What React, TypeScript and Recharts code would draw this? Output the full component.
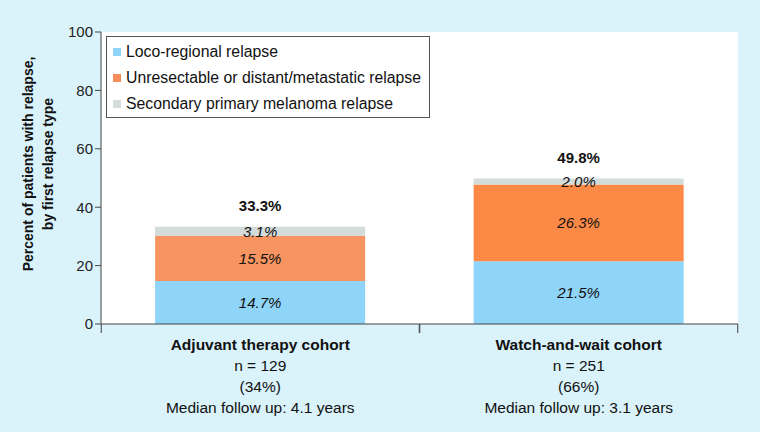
import { BarChart, Bar, XAxis, YAxis, CartesianGrid, Legend, LabelList, Cell } from 'recharts';

const cohorts = ['Adjuvant therapy cohort', 'Watch-and-wait cohort'];
const cohortN = ['n = 129', 'n = 251'];
const cohortShare = ['(34%)', '(66%)'];
const cohortFollowUp = ['Median follow up: 4.1 years', 'Median follow up: 3.1 years'];
const locoRegional = [14.7, 21.5];
const distant = [15.5, 26.3];
const secondaryPrimary = [3.1, 2.0];
const totals = [33.3, 49.8];
const yTicks = [0, 20, 40, 60, 80, 100];

const seriesNames = [
  'Loco-regional relapse',
  'Unresectable or distant/metastatic relapse',
  'Secondary primary melanoma relapse',
];
const blue = '#8fd4f9';
const orangeShades = ['#f7945f', '#fc8946'];
const legendOrange = '#f58c5c';
const grey = '#d3dbdb';

const data = cohorts.map((name, i) => ({
  name,
  loco: locoRegional[i],
  distant: distant[i],
  secondary: secondaryPrimary[i],
  total: totals[i],
}));

const font = '"Liberation Sans", Arial, Helvetica, sans-serif';
const pct = (v: number) => `${v.toFixed(1)}%`;

// half of one category band, used to put tick marks on band edges
const HALF_BAND = 159;

function CohortTick(props: any) {
  const { x, y, payload, index } = props;
  return (
    <g>
      <line x1={x - HALF_BAND} y1={y - 8} x2={x - HALF_BAND} y2={y + 1} stroke="#444" />
      <line x1={x + HALF_BAND} y1={y - 8} x2={x + HALF_BAND} y2={y + 1} stroke="#444" />
      <text x={x} textAnchor="middle" fontFamily={font} fontSize={15.5} fill="#111">
        <tspan x={x} y={y + 18} fontWeight="bold">{payload.value}</tspan>
        <tspan x={x} y={y + 39}>{cohortN[index]}</tspan>
        <tspan x={x} y={y + 60}>{cohortShare[index]}</tspan>
        <tspan x={x} y={y + 81}>{cohortFollowUp[index]}</tspan>
      </text>
    </g>
  );
}

function LegendBox() {
  const colors = [blue, legendOrange, grey];
  return (
    <div
      style={{
        width: 322,
        height: 80,
        border: '1px solid #555',
        background: '#fff',
        fontFamily: font,
        fontSize: 15.8,
        color: '#111',
        boxSizing: 'content-box',
      }}
    >
      {seriesNames.map((s, i) => (
        <div key={s} style={{ display: 'flex', alignItems: 'center', height: 26, marginTop: i === 0 ? 2 : 0 }}>
          <span style={{ width: 8, height: 8, background: colors[i], marginLeft: 6, marginRight: 5 }} />
          <span>{s}</span>
        </div>
      ))}
    </div>
  );
}

export default function App() {
  return (
    <div style={{ position: 'absolute', left: 0, top: 0, width: 760, height: 432, background: '#daf3fb' }}>
      <BarChart
        width={760}
        height={432}
        data={data}
        margin={{ top: 32, right: 22, bottom: 0, left: 0 }}
        barCategoryGap="17%"
      >
        <CartesianGrid fill="#ffffff" horizontal={false} vertical={false} />
        <XAxis
          dataKey="name"
          height={108}
          stroke="#444"
          tickLine={false}
          tick={<CohortTick />}
          interval={0}
        />
        <YAxis
          width={101}
          domain={[0, 100]}
          ticks={yTicks}
          stroke="#444"
          tickSize={6}
          tick={{ fill: '#222', fontSize: 15, fontFamily: font }}
        />
        <Legend
          layout="vertical"
          verticalAlign="middle"
          align="center"
          wrapperStyle={{ left: 106, top: 36, width: 324 }}
          content={<LegendBox />}
        />
        <Bar dataKey="loco" name={seriesNames[0]} stackId="a" fill={blue} isAnimationActive={false}>
          <LabelList dataKey="loco" position="center" formatter={pct} fill="#111" fontSize={15} fontStyle="italic" fontFamily={font} />
        </Bar>
        <Bar dataKey="distant" name={seriesNames[1]} stackId="a" fill={orangeShades[0]} isAnimationActive={false}>
          {data.map((d, i) => (
            <Cell key={d.name} fill={orangeShades[i]} />
          ))}
          <LabelList dataKey="distant" position="center" formatter={pct} fill="#111" fontSize={15} fontStyle="italic" fontFamily={font} />
        </Bar>
        <Bar dataKey="secondary" name={seriesNames[2]} stackId="a" fill={grey} isAnimationActive={false}>
          <LabelList dataKey="secondary" position="center" formatter={pct} fill="#111" fontSize={15} fontStyle="italic" fontFamily={font} />
          <LabelList dataKey="total" position="top" offset={16} formatter={pct} fill="#111" fontSize={15} fontWeight="bold" fontFamily={font} />
        </Bar>
        <text transform="translate(33,164) rotate(-90)" textAnchor="middle" fontFamily={font} fontSize={14} fontWeight="bold" fill="#111">
          <tspan x={0} y={0}>Percent of patients with relapse,</tspan>
          <tspan x={0} y={20}>by first relapse type</tspan>
        </text>
      </BarChart>
    </div>
  );
}
